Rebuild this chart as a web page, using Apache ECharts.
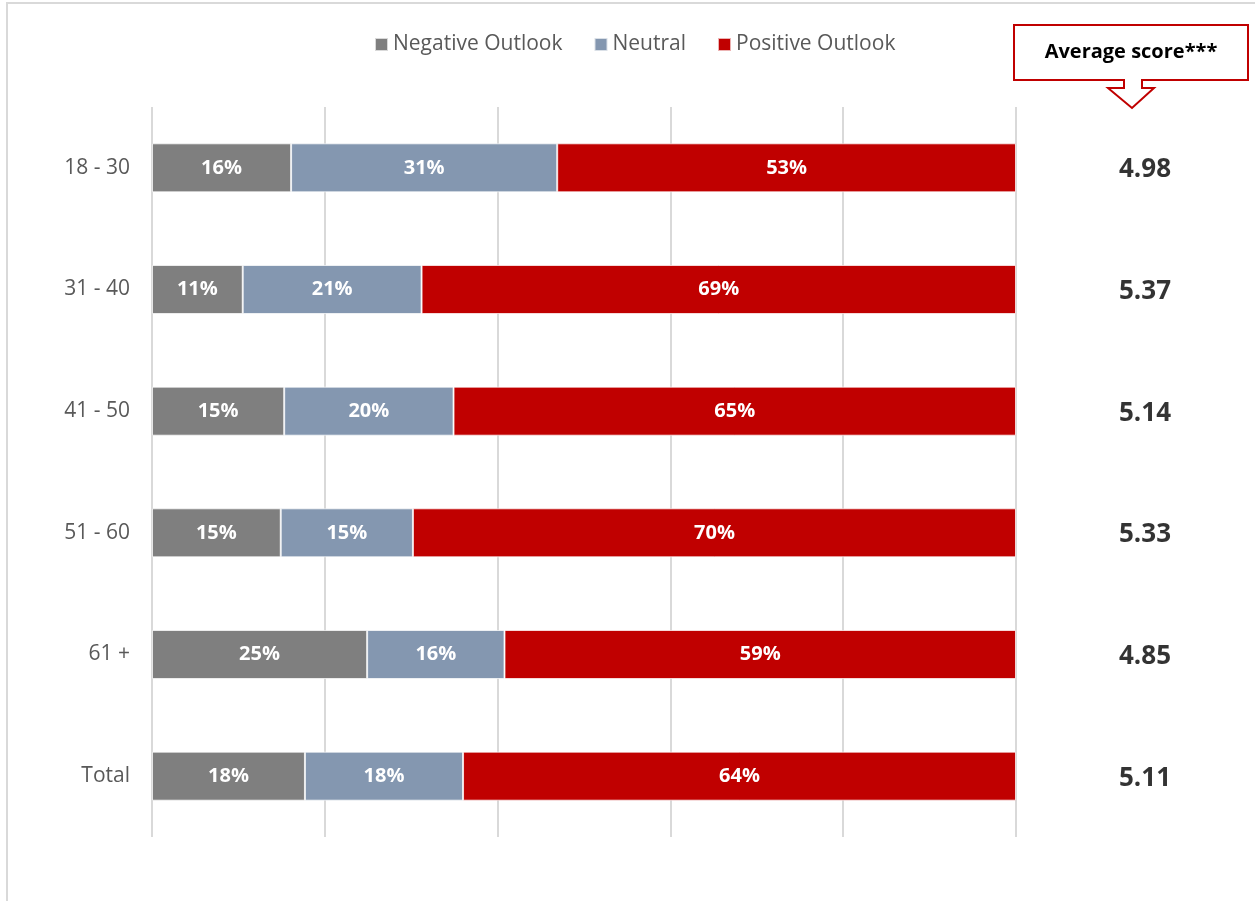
<!DOCTYPE html>
<html>
<head>
<meta charset="utf-8">
<script src="https://cdn.jsdelivr.net/npm/echarts@6/dist/echarts.min.js"></script>
<style>
  html, body { margin: 0; padding: 0; background: #fff; }
  #chart { width: 1255px; height: 901px; }
</style>
</head>
<body>
<div id="chart"></div>
<script>
const categories = ['18 - 30', '31 - 40', '41 - 50', '51 - 60', '61 +', 'Total']
const negative = [16.1, 10.5, 15.3, 14.9, 24.9, 17.7]
const neutral = [30.8, 20.7, 19.6, 15.3, 15.9, 18.3]
const positive = [53.1, 68.8, 65.1, 69.8, 59.2, 64.0]
const avgScores = ['4.98', '5.37', '5.14', '5.33', '4.85', '5.11']

const font = '"Open Sans", Lato, sans-serif'
const chart = echarts.init(document.getElementById('chart'))

const barLabel = {
  show: true,
  position: 'inside',
  color: '#fff',
  fontWeight: 'bold',
  fontSize: 20,
  fontFamily: font,
  formatter: (p) => Math.round(p.value) + '%',
}

function barSeries(name, data, color) {
  return {
    name,
    type: 'bar',
    stack: 'total',
    data,
    barWidth: 49,
    itemStyle: { color, borderColor: 'rgba(255,255,255,0.7)', borderWidth: 1 },
    label: barLabel,
    xAxisIndex: 0,
    yAxisIndex: 0,
  }
}

chart.setOption({
  animation: false,
  backgroundColor: '#fff',
  textStyle: { fontFamily: font },
  legend: {
    top: 29,
    left: 369,
    icon: 'rect',
    itemWidth: 13,
    itemHeight: 13,
    itemGap: 31,
    textStyle: { fontSize: 21, color: '#595959', fontFamily: font },
    data: ['Negative Outlook', 'Neutral', 'Positive Outlook'],
  },
  grid: [
    { left: 152, right: 239, top: 107, bottom: 64 },
    { left: 1100, width: 90, top: 109, bottom: 62 },
  ],
  xAxis: [
    {
      type: 'value', gridIndex: 0, min: 0, max: 100, interval: 20,
      axisLabel: { show: false }, axisTick: { show: false }, axisLine: { show: false },
      splitLine: { lineStyle: { color: '#d9d9d9', width: 2 } },
    },
    { type: 'value', gridIndex: 1, min: 0, max: 1, show: false },
  ],
  yAxis: [
    {
      type: 'category', gridIndex: 0, inverse: true, data: categories,
      axisLine: { show: false }, axisTick: { show: false },
      axisLabel: { fontSize: 21, color: '#595959', margin: 22, fontFamily: font },
    },
    { type: 'category', gridIndex: 1, inverse: true, data: categories, show: false },
  ],
  series: [
    barSeries('Negative Outlook', negative, '#7f7f7f'),
    barSeries('Neutral', neutral, '#8497b0'),
    barSeries('Positive Outlook', positive, '#c00000'),
    {
      type: 'scatter',
      xAxisIndex: 1,
      yAxisIndex: 1,
      symbolSize: 0,
      data: categories.map((c) => [0.5, c]),
      label: {
        show: true,
        position: 'inside',
        formatter: (p) => avgScores[p.dataIndex],
        fontSize: 26,
        fontWeight: 'bold',
        color: '#000',
        fontFamily: font,
      },
    },
  ],
  graphic: [
    {
      type: 'rect',
      shape: { x: 7, y: 3, width: 1300, height: 950 },
      style: { fill: 'none', stroke: '#d9d9d9', lineWidth: 2 },
      silent: true,
      z: -1,
    },
    {
      type: 'polygon',
      shape: {
        points: [
          [1014, 25], [1248, 25], [1248, 80], [1142, 80], [1142, 88], [1154, 88],
          [1132, 108], [1108, 88], [1124, 88], [1124, 80], [1014, 80],
        ],
      },
      style: { fill: '#fff', stroke: '#c00000', lineWidth: 2 },
    },
    {
      type: 'text',
      x: 1131,
      y: 52,
      style: {
        text: 'Average score***', fontSize: 20, fontWeight: 'bold', fill: '#000',
        fontFamily: font, align: 'center', verticalAlign: 'middle',
      },
    },
  ],
})
</script>
</body>
</html>
